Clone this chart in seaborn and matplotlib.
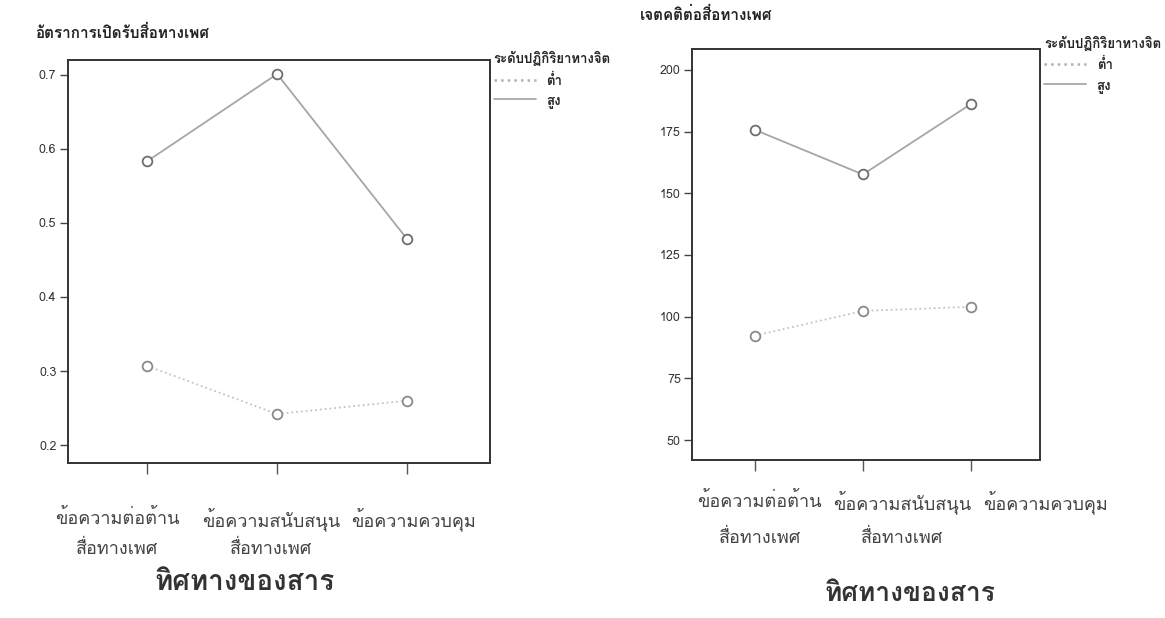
import matplotlib
matplotlib.use('Agg')
import matplotlib.pyplot as plt
import seaborn as sns
import pandas as pd
from matplotlib import font_manager
from matplotlib.lines import Line2D

# Data
categories = ['ข้อความต่อต้าน\nสื่อทางเพศ', 'ข้อความสนับสนุน\nสื่อทางเพศ', 'ข้อความควบคุม']
levels = ['ต่ำ', 'สูง']
exposure_low = [0.307, 0.242, 0.260]
exposure_high = [0.583, 0.701, 0.478]
attitude_low = [92.3, 102.3, 104.0]
attitude_high = [175.7, 157.6, 186.2]
exposure_ticks = [0.2, 0.3, 0.4, 0.5, 0.6, 0.7]
attitude_ticks = [50, 75, 100, 125, 150, 175, 200]

installed = set(f.name for f in font_manager.fontManager.ttflist)

def pick(prefs):
    for p in prefs:
        if p in installed:
            return p
    return 'DejaVu Sans'

bold_font = pick(['Loma', 'Tahoma', 'Garuda', 'IBM Plex Sans Thai', 'Sarabun'])
tick_font = pick(['Garuda', 'Norasi', 'Kinnari', 'Loma', 'IBM Plex Sans Thai Looped'])

sns.set_style('white')
plt.rcParams['font.family'] = [bold_font, 'DejaVu Sans']

fig = plt.figure(figsize=(11.65, 6.18), dpi=100)


def draw_panel(ax, low, high, ticks, ylim, xlim, title, title_xy, xlabel_xy, xlabel_size,
               label_shift, label_rows, legend_y):
    df = pd.DataFrame({'cat': categories * 2,
                       'level': [levels[0]] * 3 + [levels[1]] * 3,
                       'val': low + high})
    sns.pointplot(data=df, x='cat', y='val', hue='level', ax=ax,
                  palette={levels[0]: '#c4c4c4', levels[1]: '#a6a6a6'},
                  markers='o', linestyles=[':', '-'], legend=False, errorbar=None)
    marked = [ln for ln in ax.lines if ln.get_marker() not in (None, '', 'None')]
    for line, ec in zip(marked, ['#8a8a8a', '#6e6e6e']):
        line.set_markerfacecolor('white')
        line.set_markeredgecolor(ec)
        line.set_markersize(7)
        line.set_markeredgewidth(1.3)
        line.set_linewidth(1.3)
    ax.set_xlim(xlim)
    ax.set_ylim(ylim)
    ax.set_yticks(ticks)
    ax.set_yticklabels([str(t) for t in ticks], fontsize=9, color='#333333')
    ax.set_xticks(range(len(categories)))
    ax.set_xticklabels([])
    # SPSS spreads the category labels wider than the ticks, so place them by hand
    for i, (cat, dx) in enumerate(zip(categories, label_shift)):
        for row, dy in zip(cat.split('\n'), label_rows):
            ax.annotate(row, xy=(i, 0), xycoords=ax.get_xaxis_transform(),
                        xytext=(dx, dy), textcoords='offset pixels',
                        ha='center', va='center', fontsize=13, color='#444444',
                        family=[tick_font, 'DejaVu Sans'], annotation_clip=False)
    ax.tick_params(axis='y', direction='out', length=6, width=1, color='#444444', left=True, pad=2)
    ax.tick_params(axis='x', direction='out', length=8, width=1, color='#555555', bottom=True)
    ax.set_xlabel('')
    ax.set_ylabel('')
    for s in ax.spines.values():
        s.set_color('#333333')
        s.set_linewidth(1.4)
    handles = [Line2D([], [], color='#b0b0b0', ls=':', lw=1.8),
               Line2D([], [], color='#a0a0a0', ls='-', lw=1.2)]
    leg = ax.legend(handles, levels, title='ระดับปฏิกิริยาทางจิต', loc='upper left',
                    bbox_to_anchor=(0.995, legend_y), frameon=False,
                    prop={'weight': 'bold', 'size': 9.5},
                    title_fontproperties={'weight': 'bold', 'size': 9.5},
                    handlelength=3.2, labelspacing=0.55, borderaxespad=0)
    leg._legend_box.align = 'left'
    fig.text(title_xy[0], title_xy[1], title, fontsize=11, fontweight='bold', color='#222222',
             ha='left', va='center')
    fig.text(xlabel_xy[0], xlabel_xy[1], 'ทิศทางของสาร', fontsize=xlabel_size, fontweight='bold',
             color='#333333', ha='center', va='center')


ax1 = fig.add_axes([0.058, 0.251, 0.363, 0.652])
draw_panel(ax1, exposure_low, exposure_high, exposure_ticks, (0.176, 0.72), (-0.61, 2.64),
           'อัตราการเปิดรับสื่อทางเพศ', (0.030, 1 - 33 / 618), (245 / 1165, 1 - 582 / 618), 20,
           [-30, -6, 6], [-56, -86], 1.035)

ax2 = fig.add_axes([0.594, 0.256, 0.299, 0.665])
draw_panel(ax2, attitude_low, attitude_high, attitude_ticks, (42, 208.5), (-0.58, 2.64),
           'เจตคติต่อสื่อทางเพศ', (0.549, 1 - 15 / 618), (910 / 1165, 1 - 594 / 618), 19,
           [5, 39, 74], [-42, -78], 1.045)

fig.savefig('out.png', dpi=100)
